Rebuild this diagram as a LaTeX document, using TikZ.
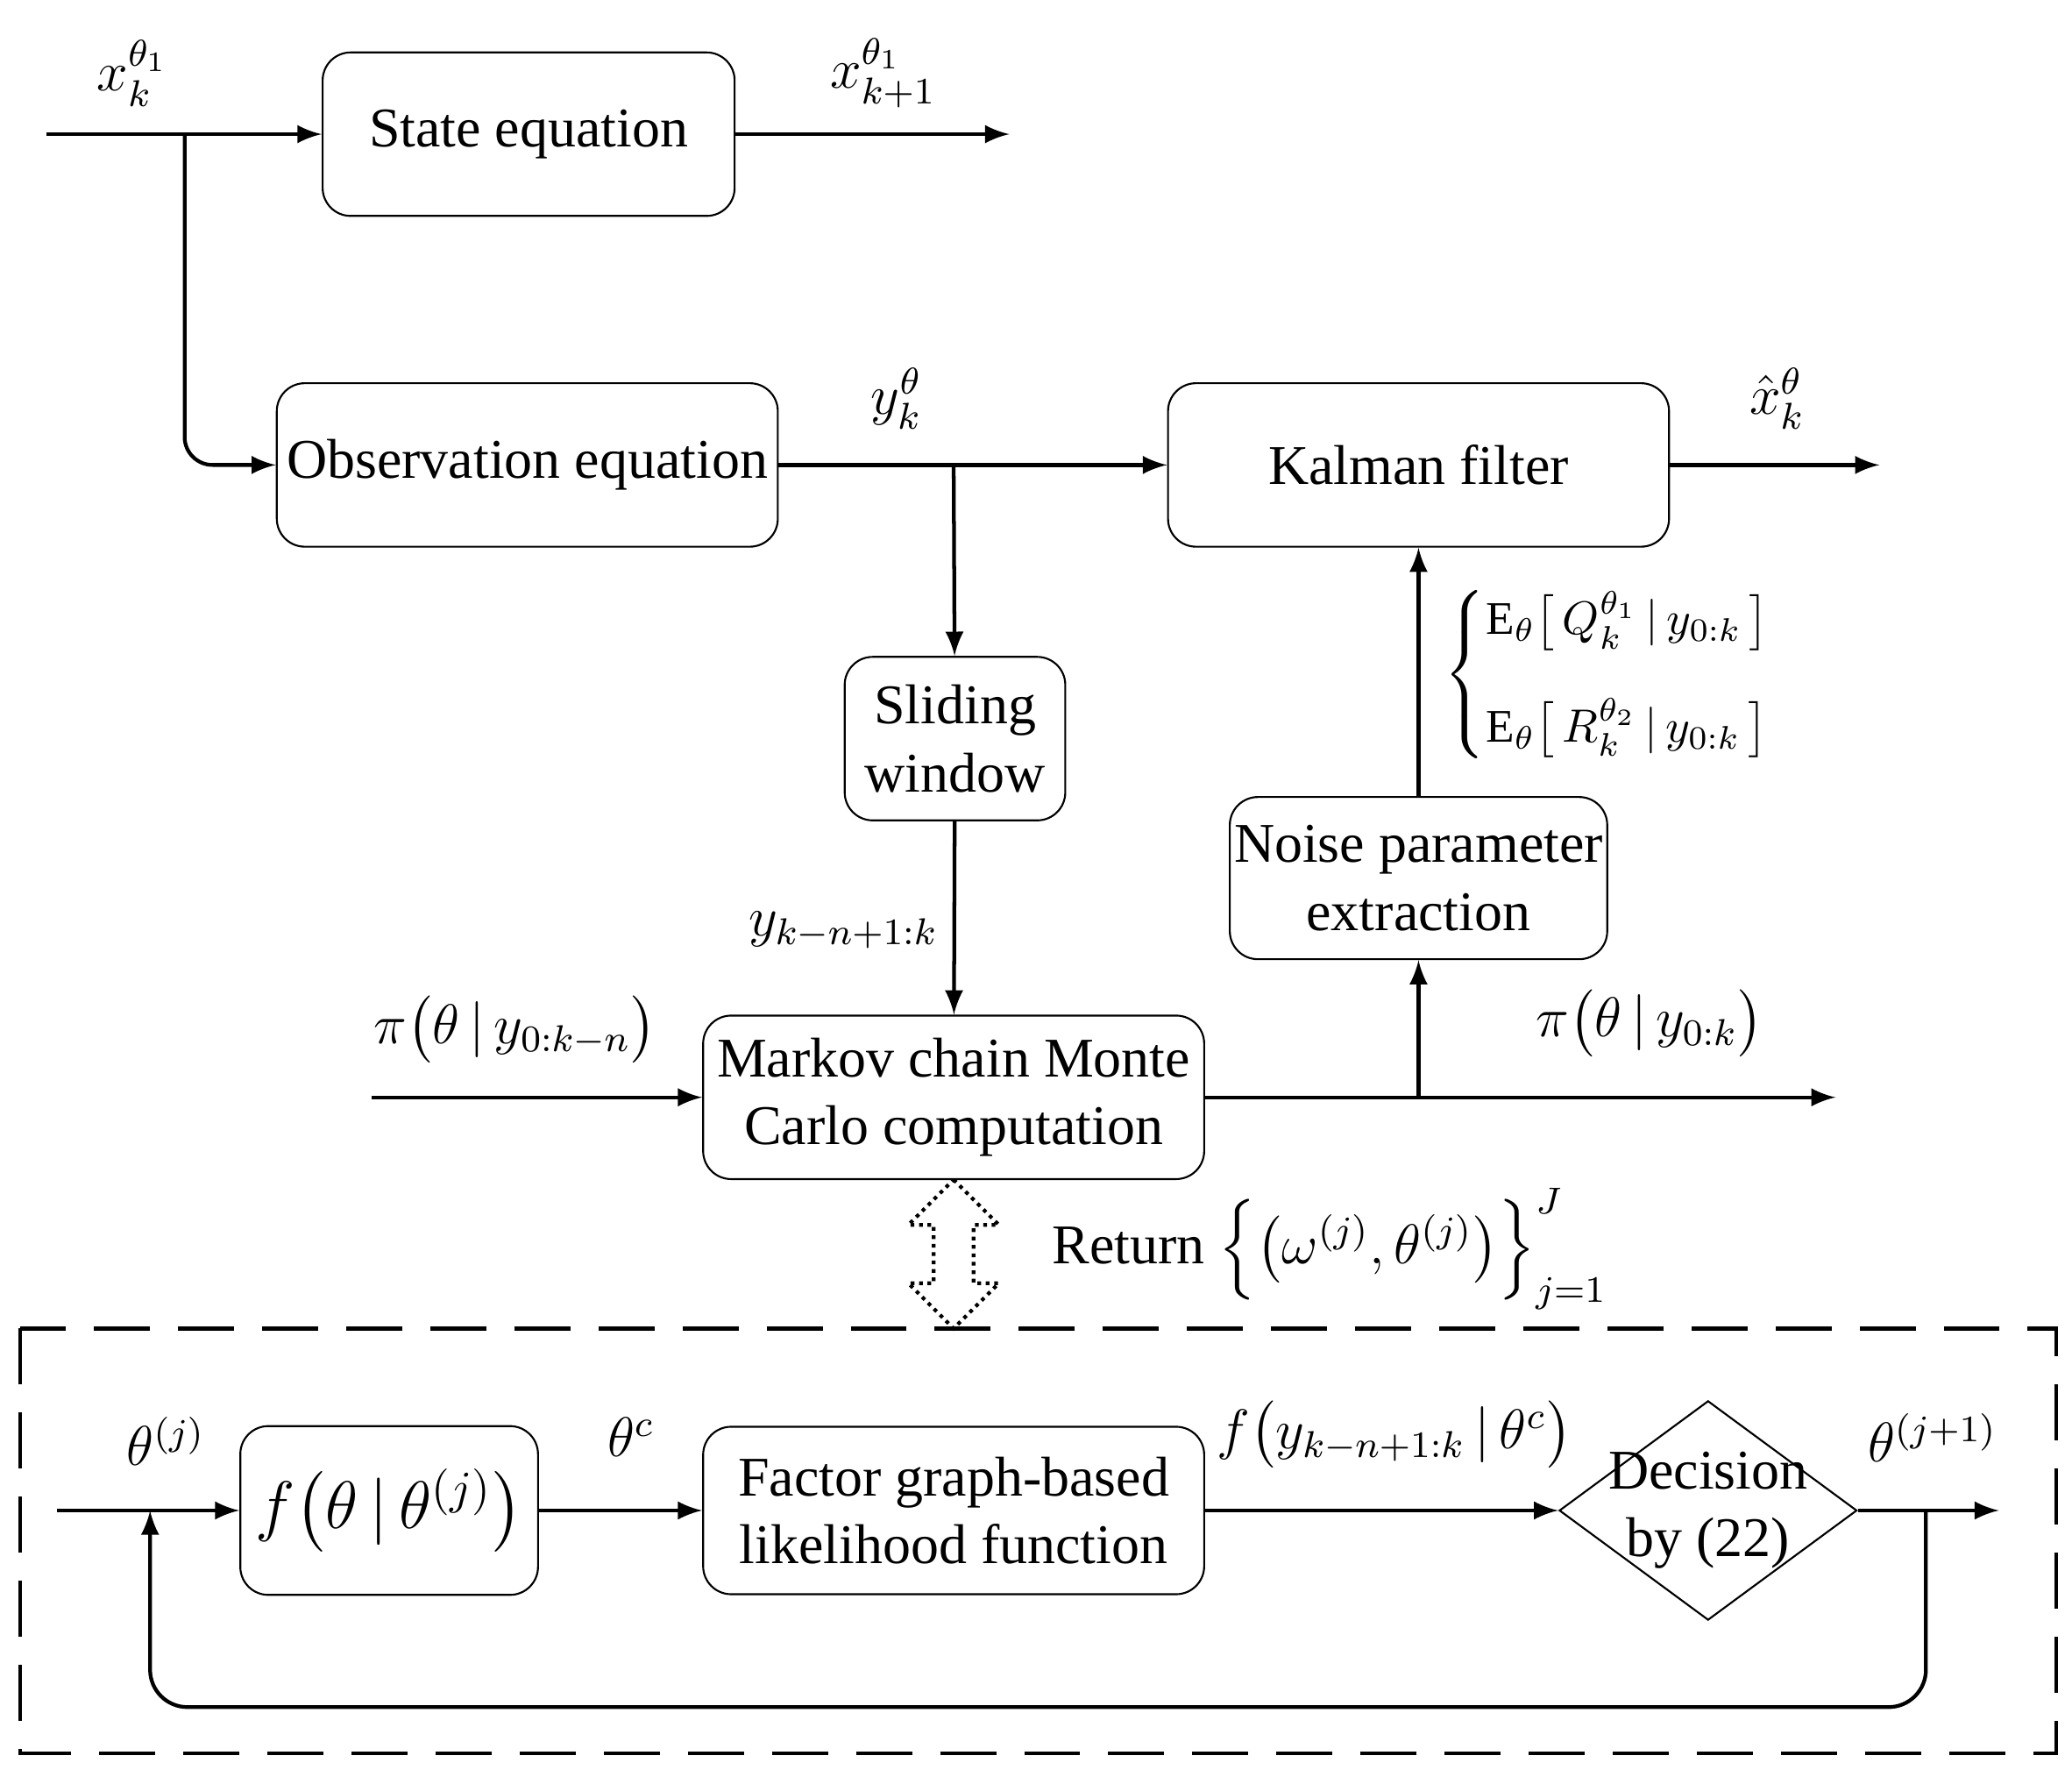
\documentclass[tikz,border=0pt]{standalone}
\usepackage{amsmath}
\usepackage{fontspec}
\setmainfont{Liberation Serif}
\usetikzlibrary{positioning}
\usetikzlibrary{shapes.geometric}

\begin{document}
\begin{tikzpicture}[
  x=0.01cm, y=-0.01cm,
  blk/.style={draw,rounded corners=6pt,align=center,font=\fontsize{12}{14.5}\selectfont,inner sep=0pt},
  lbl/.style={font=\large},
  arr/.style={-latex,thick},
  ln/.style={thick}
]
  \useasboundingbox (0,0) rectangle (1560,1337);

  % boxes
  \node[blk, minimum width=3.1cm, minimum height=1.23cm] (se) at (398,101) {State equation};
  \node[blk, minimum width=3.77cm, minimum height=1.23cm] (oe) at (397,350) {Observation equation};
  \node[blk, minimum width=3.77cm, minimum height=1.23cm] (kf) at (1068,350) {Kalman filter};
  \node[blk, minimum width=1.66cm, minimum height=1.23cm] (sw) at (719,556) {Sliding\\window};
  \node[blk, minimum width=2.84cm, minimum height=1.22cm] (np) at (1068,661) {Noise parameter\\extraction};
  \node[blk, minimum width=3.77cm, minimum height=1.23cm] (mc) at (718,826) {Markov chain Monte\\Carlo computation};
  \node[blk, minimum width=2.24cm, minimum height=1.27cm, font=\Large] (fb) at (293,1137) {$f\big(\theta\,|\,\theta^{(j)}\big)$};
  \node[blk, minimum width=3.77cm, minimum height=1.26cm] (fg) at (718,1137) {Factor graph-based\\likelihood function};
  \node[draw, diamond, minimum width=2.24cm, minimum height=1.65cm, inner sep=0pt, align=center, font=\fontsize{12}{14.5}\selectfont] (dc) at (1286,1137) {};
  \node[align=center, font=\fontsize{12}{14.5}\selectfont] at (dc) {Decision\\by (22)};

  % helper coordinates
  \coordinate (in1) at (35,101);
  \coordinate (out1) at (760,101);
  \coordinate (br1) at (139,101);
  \coordinate (jy) at (718,350);
  \coordinate (out2) at (1415,350);
  \coordinate (in3) at (280,826);
  \coordinate (out3) at (1382,826);
  \coordinate (jm) at (1068,826);
  \coordinate (in4) at (43,1137);
  \coordinate (out4) at (1505,1137);
  \coordinate (fbk) at (1450,1137);
  \coordinate (fbe) at (113,1137);

  % connectors
  \draw[arr] (in1) -- (se);
  \draw[arr] (se) -- (out1);
  \draw[arr, rounded corners=6pt] (br1) |- (oe);
  \draw[arr] (oe) -- (kf);
  \draw[arr] (jy) -- (sw);
  \draw[arr] (kf) -- (out2);
  \draw[arr] (sw) -- (mc);
  \draw[arr] (in3) -- (mc);
  \draw[arr] (mc) -- (out3);
  \draw[arr] (jm) -- (np);
  \draw[arr] (np) -- (kf);
  \draw[arr] (in4) -- (fb);
  \draw[arr] (fb) -- (fg);
  \draw[arr] (fg) -- (dc);
  \draw[arr] (dc) -- (out4);
  \draw[arr, rounded corners=8pt] (fbk) -- (1450,1285) -- (113,1285) -- (fbe);

  % dashed frame and dotted double arrow
  \draw[thick, dashed, dash pattern=on 12pt off 6pt] (15,1000) rectangle (1548,1320);
  \draw[thick, densely dotted] (718,888) -- (752,922) -- (733,922) -- (733,966) -- (752,966)
    -- (718,1000) -- (684,966) -- (703,966) -- (703,922) -- (684,922) -- cycle;

  % labels
  \node[lbl] at (100,55) {$x_k^{\theta_1}$};
  \node[lbl] at (665,55) {$x_{k+1}^{\theta_1}$};
  \node[lbl] at (675,300) {$y_k^{\theta}$};
  \node[lbl] at (1338,300) {$\hat{x}_k^{\theta}$};
  \node[lbl] at (635,700) {$y_{k-n+1:k}$};
  \node[lbl] at (388,775) {$\pi\big(\theta\,|\,y_{0:k-n}\big)$};
  \node[lbl] at (1242,770) {$\pi\big(\theta\,|\,y_{0:k}\big)$};
  \node[lbl, anchor=west, font=\normalsize] at (1075,508) {$\left\{\begin{aligned}
      &\mathrm{E}_\theta\big[\,Q_k^{\theta_1}\,|\,y_{0:k}\,\big]\\[6pt]
      &\mathrm{E}_\theta\big[\,R_k^{\theta_2}\,|\,y_{0:k}\,\big]
    \end{aligned}\right.$};
  \node[anchor=west, font=\large] at (780,940) {Return $\Big\{\big(\omega^{(j)},\theta^{(j)}\big)\Big\}_{j=1}^{J}$};
  \node[lbl] at (125,1085) {$\theta^{(j)}$};
  \node[lbl] at (475,1082) {$\theta^{c}$};
  \node[lbl] at (1050,1080) {$f\big(y_{k-n+1:k}\,|\,\theta^{c}\big)$};
  \node[lbl] at (1455,1082) {$\theta^{(j+1)}$};
\end{tikzpicture}
\end{document}
